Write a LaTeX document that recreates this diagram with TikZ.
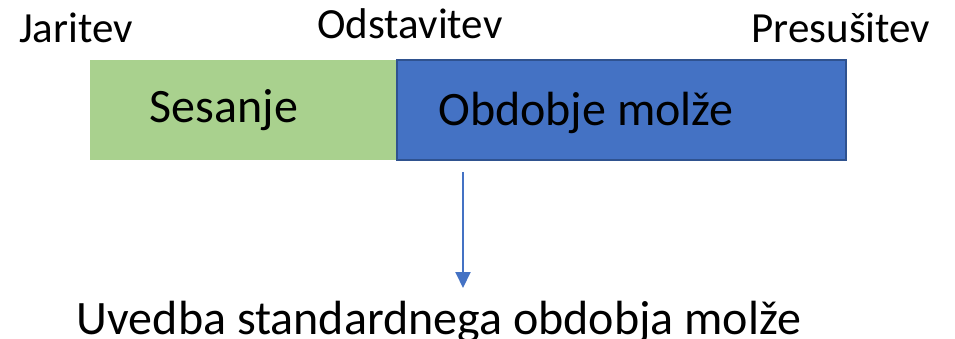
\documentclass[tikz,border=0pt]{standalone}
\usepackage{fontspec}
\setmainfont{Carlito}
\usetikzlibrary{arrows.meta}
\definecolor{suckgreen}{HTML}{A9D18E}
\definecolor{milkblue}{HTML}{4472C4}
\definecolor{milkedge}{HTML}{2F528F}
\begin{document}
\begin{tikzpicture}[x=1pt,y=-1pt,
  phase node/.style={inner sep=0pt,outer sep=0pt,anchor=north west,minimum height=100pt},
  mark label/.style={font=\fontsize{43}{43}\selectfont,inner sep=0pt,anchor=base},
  phase label/.style={font=\fontsize{48}{48}\selectfont,inner sep=0pt,anchor=base}]
  \useasboundingbox (0,0) rectangle (955,339);
  \node[phase node,fill=suckgreen,minimum width=307pt] (suck) at (90,60) {};
  \node[phase node,fill=milkblue,draw=milkedge,line width=1.2pt,minimum width=449pt] (milk) at (397,60) {};
  \node[mark label] (birth) at (76,43) {Jaritev};
  \node[mark label] (wean) at (410,39) {Odstavitev};
  \node[mark label] (dry) at (841,43) {Presušitev};
  \node[phase label] (sucktext) at (224,123) {Sesanje};
  \node[phase label] (milktext) at (586,126) {Obdobje molže};
  \node[phase label] (standard) at (439,334) {Uvedba standardnega obdobja molže};
  \coordinate (arrowtop) at (463,172);
  \coordinate (arrowtip) at (463,288);
  \draw[milkblue,line width=2pt,-{Triangle[length=16pt,width=15pt]}] (arrowtop) -- (arrowtip);
\end{tikzpicture}
\end{document}
